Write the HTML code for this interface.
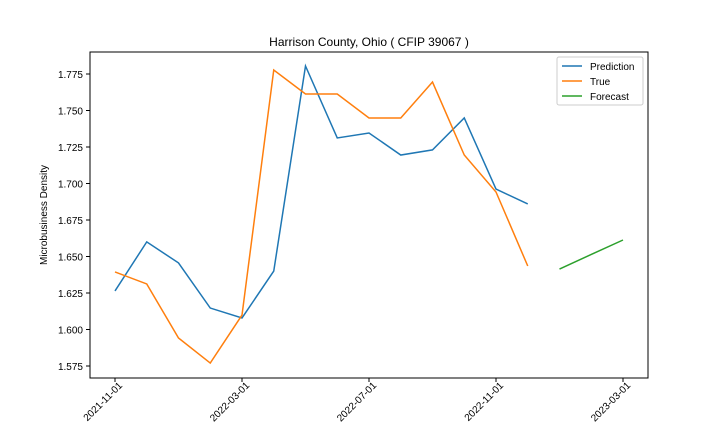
<!DOCTYPE html>
<html><head><meta charset="utf-8"><style>body{margin:0;background:#fff}svg{font-family:"Liberation Sans","DejaVu Sans",sans-serif}</style></head>
<body>
<svg id="chart" width="720" height="432" xmlns="http://www.w3.org/2000/svg"></svg>
<script>
const xTickLabels = ["2021-11-01","2022-03-01","2022-07-01","2022-11-01","2023-03-01"];
const xTickIdx = [0,4,8,12,16];
const yTicks = [1.575,1.600,1.625,1.650,1.675,1.700,1.725,1.750,1.775];
const predIdx = [0,1,2,3,4,5,6,7,8,9,10,11,12,13];
const predVals = [1.6264,1.660,1.6456,1.6147,1.6079,1.640,1.7805,1.7312,1.7346,1.7195,1.723,1.7449,1.6962,1.686];
const trueIdx = [0,1,2,3,4,5,6,7,8,9,10,11,12,13];
const trueVals = [1.6394,1.6312,1.5942,1.577,1.6099,1.7777,1.7613,1.7613,1.7449,1.7449,1.7695,1.7195,1.6942,1.6435];
const fcIdx = [14,15,16];
const fcVals = [1.6414,1.6514,1.6613];

const svg = document.getElementById('chart');
const NS = 'http://www.w3.org/2000/svg';
const L=90,R=648,T=52,B=378;
const x = i => 115 + i*31.75;
const y = v => 74 + (1.775 - v)/0.025*36.5;
function mk(tag, attrs, parent){const e=document.createElementNS(NS,tag);for(const k in attrs)e.setAttribute(k,attrs[k]);(parent||svg).appendChild(e);return e;}

const frame = mk('rect',{x:L,y:T,width:R-L,height:B-T,fill:'none',stroke:'#000','stroke-width':1});



yTicks.forEach(v=>{
  const t=mk('line',{x1:L-4,x2:L,y1:y(v),y2:y(v),stroke:'#000'});
  
  
  const tx=mk('text',{x:L-7,y:y(v)+4,'text-anchor':'end','font-size':10});
  tx.textContent=v.toFixed(3);
  
  
});
xTickIdx.forEach((i,k)=>{
  const t=mk('line',{x1:x(i),x2:x(i),y1:B,y2:B+4,stroke:'#000'});
  
  
  const ax=x(i)+8, ay=B+8;
  const tx=mk('text',{x:ax,y:ay,'text-anchor':'end','font-size':10,transform:`rotate(-45 ${ax} ${ay})`});
  tx.textContent=xTickLabels[k];
  
  
});

function series(idx, vals, color, name){
  const p=mk('polyline',{points:idx.map((i,k)=>x(i)+','+y(vals[k])).join(' '),fill:'none',stroke:color,'stroke-width':1.5});
  
  
}
series(predIdx,predVals,'#1f77b4','prediction-line');
series(trueIdx,trueVals,'#ff7f0e','true-line');
series(fcIdx,fcVals,'#2ca02c','forecast-line');

const title=mk('text',{x:369,y:46,'text-anchor':'middle','font-size':12});
title.textContent='Harrison County, Ohio ( CFIP 39067 )';


const yl=mk('text',{x:47,y:215,'text-anchor':'middle','font-size':10,transform:'rotate(-90 47 215)'});
yl.textContent='Microbusiness Density';



const lg=mk('g',{});


mk('rect',{x:557,y:57,width:86,height:48,rx:2,fill:'#fff',stroke:'#ccc'},lg);
[['Prediction','#1f77b4'],['True','#ff7f0e'],['Forecast','#2ca02c']].forEach((e,k)=>{
  const yy=66+k*15;
  const g=mk('g',{},lg);
  
  
  mk('line',{x1:562,x2:582,y1:yy,y2:yy,stroke:e[1],'stroke-width':1.5},g);
  const t=mk('text',{x:590,y:yy+4,'font-size':10},g);
  t.textContent=e[0];
});
</script>
</body></html>
